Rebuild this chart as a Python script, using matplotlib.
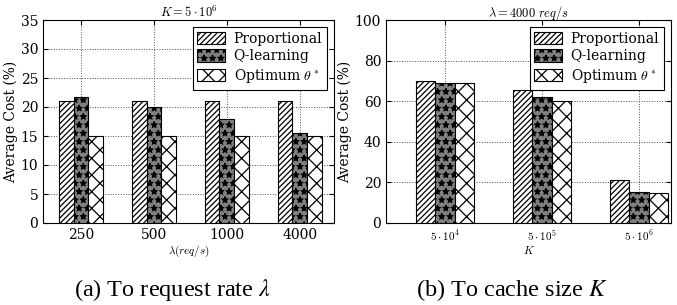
import numpy as np
import matplotlib
matplotlib.use("Agg")
import matplotlib.pyplot as plt

plt.rcParams['font.family'] = 'DejaVu Serif'
plt.rcParams['mathtext.fontset'] = 'cm'
plt.rcParams['hatch.linewidth'] = 0.9

# left panel: cost vs request rate
rates = ['250', '500', '1000', '4000']
prop_rate = [21, 21, 21, 21]
qlearn_rate = [21.7, 20, 18, 15.5]
optim_rate = [15, 15, 15, 15]

# right panel: cost vs cache size
sizes = [r'$5\cdot10^4$', r'$5\cdot10^5$', r'$5\cdot10^6$']
prop_size = [70, 65.5, 21]
qlearn_size = [69.2, 62.3, 15.5]
optim_size = [69.2, 60, 15]

labels = ['Proportional', 'Q-learning', r'Optimum $\theta^*$']
faces = ['white', '#808080', 'white']
hatches = ['//////', '**', 'xx']

fig = plt.figure(figsize=(6.77, 3.05), dpi=100)
ax1 = fig.add_axes([43/677, 1 - 223/305, 291/677, 203/305])
ax2 = fig.add_axes([386/677, 1 - 223/305, 285/677, 203/305])


def draw(ax, cats, series, ylim, yticks):
    x = np.arange(len(cats))
    w = 0.2
    for i, vals in enumerate(series):
        ax.bar(x + (i - 1) * w, vals, w, color=faces[i], edgecolor='black',
               hatch=hatches[i], linewidth=0.8, label=labels[i], zorder=3)
    ax.set_xticks(x)
    ax.set_ylim(*ylim)
    ax.set_yticks(yticks)
    ax.grid(True, linestyle=':', color='0.3', linewidth=0.7, zorder=0)
    ax.tick_params(direction='in', top=True, right=True, labelsize=10)
    ax.set_ylabel('Average Cost (%)', fontsize=10, labelpad=2)
    leg = ax.legend(loc='upper right', fontsize=10, fancybox=False,
                    edgecolor='black', framealpha=1, handlelength=2.0,
                    handleheight=1.0, borderaxespad=0.5, labelspacing=0.25,
                    borderpad=0.35, handletextpad=0.6)
    leg.get_frame().set_linewidth(0.8)
    return x


draw(ax1, rates, [prop_rate, qlearn_rate, optim_rate], (0, 35), range(0, 36, 5))
ax1.set_xlim(-0.52, 3.47)
ax1.set_xticklabels(rates)
ax1.set_xlabel(r'$\lambda(req/s)$', fontsize=8, labelpad=1)
ax1.set_title(r'$K=5\cdot10^6$', fontsize=9, pad=2)

draw(ax2, sizes, [prop_size, qlearn_size, optim_size], (0, 100), range(0, 101, 20))
ax2.set_xlim(-0.61, 2.33)
ax2.set_xticklabels(sizes, fontsize=8)
ax2.set_xlabel(r'$K$', fontsize=8, labelpad=1)
ax2.set_title(r'$\lambda=4000\ req/s$', fontsize=9, pad=2)

fig.text(172/677, 1 - 290/305, r'(a) To request rate $\lambda$', ha='center', va='center',
         fontsize=17.5, family='Liberation Serif', math_fontfamily='stix')
fig.text(512/677, 1 - 290/305, r'(b) To cache size $K$', ha='center', va='center',
         fontsize=17.5, family='Liberation Serif', math_fontfamily='stix')

fig.savefig('out.png', dpi=100)
